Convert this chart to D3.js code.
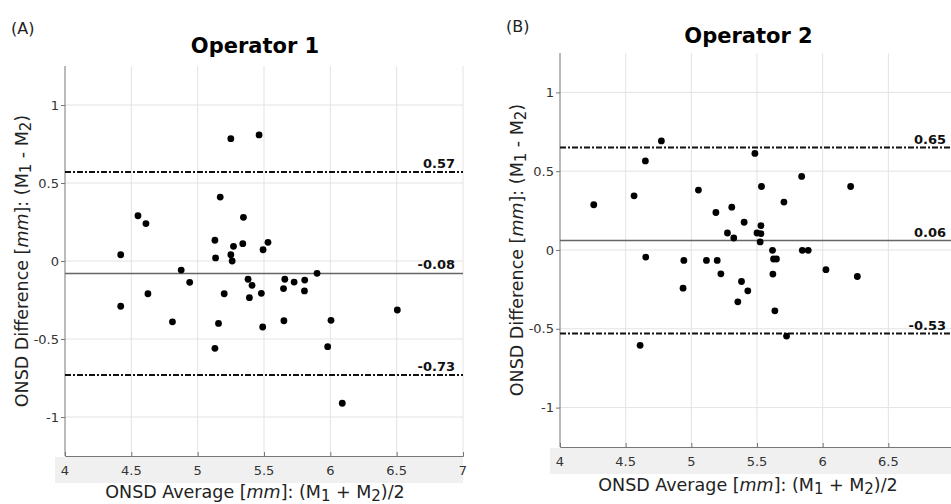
<!DOCTYPE html>
<html>
<meta charset='utf-8'>
<head>
<title>Bland-Altman ONSD</title>
<script src='https://d3js.org/d3.v7.min.js'></script>
<style>
body { margin: 0; background: #fff; }
text { font-family: 'DejaVu Sans', Verdana, sans-serif; }
</style>
</head>
<body>
<div id='chart'></div>
<script>

// data
var xTicks = [4, 4.5, 5, 5.5, 6, 6.5, 7];
var yTicks = [-1, -0.5, 0, 0.5, 1];

var op1Avg = [4.42, 4.55, 4.61, 4.625, 4.42, 4.81, 4.876, 4.94, 5.17, 5.13, 5.135, 5.25, 5.26,
    5.27, 5.345, 5.34, 5.20, 5.157, 5.38, 5.41, 5.39, 5.48, 5.493, 5.53, 5.49, 5.657, 5.647,
    5.65, 5.727, 5.807, 5.805, 5.90, 6.005, 6.505, 5.25, 5.463, 5.13, 5.98, 6.09];
var op1Diff = [0.04, 0.29, 0.24, -0.21, -0.29, -0.39, -0.058, -0.137, 0.41, 0.133, 0.02, 0.04, 0.0,
    0.094, 0.28, 0.111, -0.21, -0.40, -0.117, -0.156, -0.235, -0.207, 0.072, 0.12, -0.423, -0.117, -0.177,
    -0.383, -0.135, -0.122, -0.192, -0.079, -0.38, -0.314, 0.784, 0.808, -0.56, -0.549, -0.912];
var op1Lines = [0.57, -0.08, -0.73];

var op2Avg = [4.257, 4.564, 4.65, 4.653, 4.943, 4.937, 5.054, 5.115, 5.197, 5.187, 5.225, 5.275, 5.308,
    5.323, 5.402, 5.382, 5.43, 5.354, 5.50, 5.53, 5.53, 5.524, 5.534, 5.618, 5.626, 5.648, 5.621,
    5.636, 5.705, 5.725, 5.84, 5.845, 5.89, 6.025, 6.213, 6.264, 4.772, 5.484, 4.61];
var op2Diff = [0.287, 0.344, 0.565, -0.045, -0.066, -0.242, 0.38, -0.066, -0.066, 0.238, -0.151, 0.108, 0.272,
    0.076, 0.176, -0.2, -0.259, -0.329, 0.108, 0.104, 0.155, 0.051, 0.403, -0.002, -0.057, -0.057, -0.153,
    -0.386, 0.304, -0.546, 0.467, -0.002, -0.002, -0.125, 0.403, -0.168, 0.692, 0.613, -0.605];
var op2Lines = [0.65, 0.06, -0.53];

var W = 951, H = 504;
var svg = d3.select('#chart')
    .append('svg')
    .attr('width', W)
    .attr('height', H);

var panels = [
    {tag: '(A)', title: 'Operator 1', avg: op1Avg, diff: op1Diff, lines: op1Lines,
     left: 65, right: 463, top: 66, bottom: 456, tagX: 11, tagY: 34, titleY: 53, ylabX: 28, xlabY: 498},
    {tag: '(B)', title: 'Operator 2', avg: op2Avg, diff: op2Diff, lines: op2Lines,
     left: 560, right: 954, top: 53, bottom: 447, tagX: 506, tagY: 32, titleY: 43, ylabX: 523, xlabY: 491}
];

panels.forEach(function(p) {
    var x = d3.scaleLinear().domain([4, 7]).range([p.left, p.right]);
    var y = d3.scaleLinear().domain([-1.25, 1.25]).range([p.bottom, p.top]);
    var g = svg.append('g');

    // gray band behind x tick labels
    g.append('rect')
        .attr('x', p.left - 10)
        .attr('y', p.bottom + 1)
        .attr('width', p.right - p.left + 10)
        .attr('height', 26)
        .attr('fill', '#f0f0f0');

    // grid
    g.selectAll('.vg').data(xTicks.slice(1)).enter().append('line')
        .attr('x1', function(d) { return x(d); })
        .attr('x2', function(d) { return x(d); })
        .attr('y1', p.top).attr('y2', p.bottom)
        .attr('stroke', '#e3e3e3').attr('stroke-width', 1);
    g.selectAll('.hg').data(yTicks).enter().append('line')
        .attr('x1', p.left).attr('x2', p.right)
        .attr('y1', function(d) { return y(d); })
        .attr('y2', function(d) { return y(d); })
        .attr('stroke', '#e3e3e3').attr('stroke-width', 1);

    // axes
    var xa = g.append('g')
        .attr('transform', 'translate(0,' + p.bottom + ')')
        .call(d3.axisTop(x).tickValues(xTicks).tickSize(4).tickFormat(''));
    xa.selectAll('line,path').attr('stroke', '#777');
    // tick labels past the page edge are not shown (panel B is cut off)
    g.selectAll('.xt').data(xTicks.filter(function(d) { return x(d) < W - 4; }))
        .enter().append('text')
        .attr('x', function(d) { return x(d); })
        .attr('y', p.bottom + 19)
        .attr('text-anchor', 'middle')
        .attr('font-size', 13)
        .attr('fill', '#333')
        .text(function(d) { return d; });

    var ya = g.append('g')
        .attr('transform', 'translate(' + p.left + ',0)')
        .call(d3.axisLeft(y).tickValues(yTicks).tickSize(4).tickSizeOuter(0).tickPadding(2)
            .tickFormat(function(d) { return String(d); }));
    ya.selectAll('line,path').attr('stroke', '#777');
    ya.selectAll('text').attr('font-size', 13).attr('fill', '#333')
        .attr('font-family', "'DejaVu Sans', Verdana, sans-serif");
    ya.select('.domain').attr('d', 'M0,' + p.top + 'V' + p.bottom);

    // mean and limits of agreement
    p.lines.forEach(function(v, i) {
        g.append('line')
            .attr('x1', p.left).attr('x2', p.right)
            .attr('y1', y(v)).attr('y2', y(v))
            .attr('stroke', i == 1 ? '#666' : '#111')
            .attr('stroke-width', i == 1 ? 1.5 : 2)
            .attr('stroke-dasharray', i == 1 ? null : '6,2,2,2');
        g.append('text')
            .attr('x', p.right - 8)
            .attr('y', y(v) - 4)
            .attr('text-anchor', 'end')
            .attr('font-size', 13)
            .attr('font-weight', 'bold')
            .attr('fill', '#111')
            .text(v.toFixed(2));
    });

    // points
    g.selectAll('.pt').data(p.avg).enter().append('circle')
        .attr('cx', function(d) { return x(d); })
        .attr('cy', function(d, i) { return y(p.diff[i]); })
        .attr('r', 3.4)
        .attr('fill', '#000');

    // titles
    svg.append('text')
        .attr('x', p.tagX).attr('y', p.tagY)
        .attr('font-size', 16)
        .attr('fill', '#222')
        .text(p.tag);
    svg.append('text')
        .attr('x', (p.left + Math.min(p.right, W)) / 2 + (p.tag == '(B)' ? -7 : -9))
        .attr('y', p.titleY)
        .attr('text-anchor', 'middle')
        .attr('font-size', 21)
        .attr('font-weight', 'bold')
        .text(p.title);

    // x label
    var xl = svg.append('text')
        .attr('x', (p.left + p.right) / 2 - 9)
        .attr('y', p.xlabY)
        .attr('text-anchor', 'middle')
        .attr('font-size', 17.5)
        .attr('fill', '#222');
    xl.append('tspan').text('ONSD Average [');
    xl.append('tspan').attr('font-style', 'italic').text('mm');
    xl.append('tspan').text(']: (M');
    xl.append('tspan').attr('font-size', 15).attr('dy', 3).text('1');
    xl.append('tspan').attr('dy', -3).text(' + M');
    xl.append('tspan').attr('font-size', 15).attr('dy', 3).text('2');
    xl.append('tspan').attr('dy', -3).text(')/2');

    // y label
    var yl = svg.append('text')
        .attr('transform', 'translate(' + p.ylabX + ',' + ((p.top + p.bottom) / 2) + ') rotate(-90)')
        .attr('text-anchor', 'middle')
        .attr('font-size', 17.5)
        .attr('fill', '#222');
    yl.append('tspan').text('ONSD Difference [');
    yl.append('tspan').attr('font-style', 'italic').text('mm');
    yl.append('tspan').text(']: (M');
    yl.append('tspan').attr('font-size', 15).attr('dy', 3).text('1');
    yl.append('tspan').attr('dy', -3).text(' - M');
    yl.append('tspan').attr('font-size', 15).attr('dy', 3).text('2');
    yl.append('tspan').attr('dy', -3).text(')');
});

</script>
</body>
</html>
